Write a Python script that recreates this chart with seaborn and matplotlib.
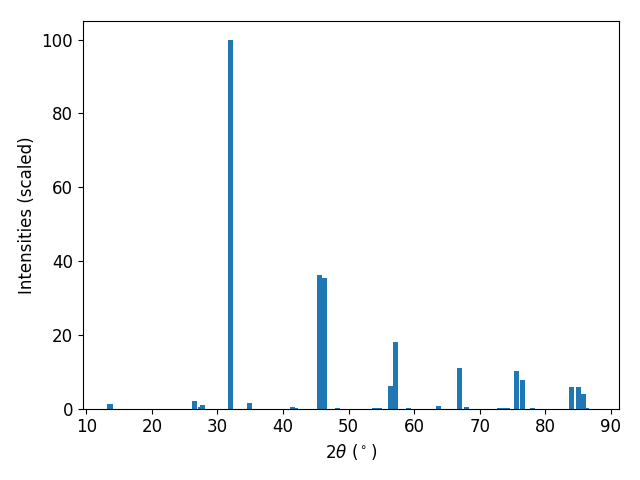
import matplotlib
matplotlib.use("Agg")
import matplotlib.pyplot as plt
import seaborn as sns

# peak positions (2 theta, degrees) and scaled intensities
two_theta = [13.60, 26.55, 27.39, 27.77, 32.03, 34.93, 41.48, 41.90,
             45.60, 46.36, 48.34, 53.98, 54.74, 56.42, 57.18, 59.16,
             63.73, 66.93, 67.99, 72.97, 73.60, 74.20, 75.62, 76.53,
             78.05, 84.00, 85.06, 85.82, 86.28, 87.15]
intensities = [1.35, 2.2, 0.4, 1.1, 100.0, 1.55, 0.5, 0.2,
               36.2, 35.5, 0.25, 0.27, 0.27, 6.2, 18.1, 0.27,
               0.8, 11.1, 0.55, 0.27, 0.27, 0.27, 10.3, 7.85,
               0.27, 5.95, 5.95, 4.05, 0.27, 0.05]

plt.rcParams['font.size'] = 12
colour = sns.color_palette()[0]

fig, ax = plt.subplots(figsize=(6.4, 4.8), dpi=100)
ax.bar(two_theta, intensities, width=0.8, color=colour)
ax.set_xlabel(r'$2\theta$ ($^\circ$)')
ax.set_ylabel('Intensities (scaled)')
plt.tight_layout()
fig.subplots_adjust(top=0.956)
plt.savefig('out.png')
plt.close()
